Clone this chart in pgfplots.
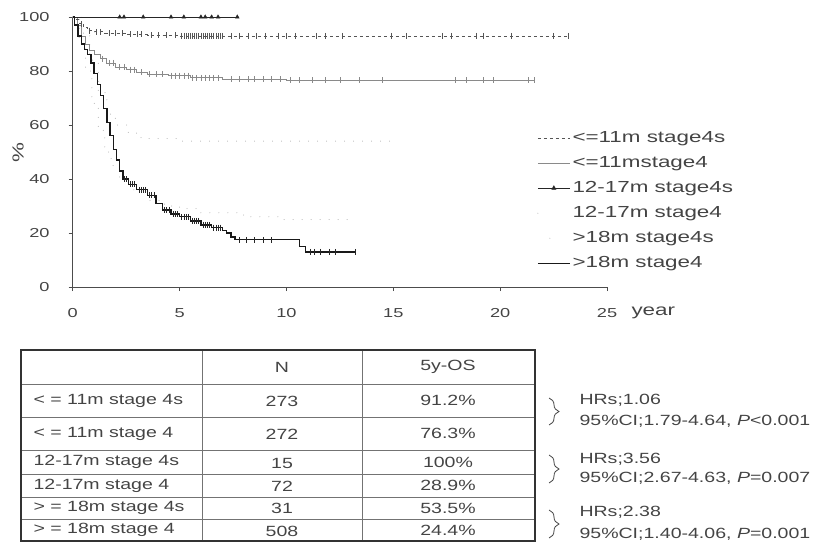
\documentclass[border=0pt]{standalone}
\usepackage{fontspec}
\usepackage{pgfplots}
\pgfplotsset{compat=1.18}
\usetikzlibrary{decorations.pathreplacing}
\newfontfamily\wf[FakeStretch=1.4]{Liberation Sans}
\newfontfamily\tf[FakeStretch=1.32]{Liberation Sans}
\newcommand\tickfont{\wf\fontsize{13}{15}\selectfont}
\newcommand\legfont{\wf\fontsize{16}{18}\selectfont}
\newcommand\tabfont{\tf\fontsize{14.8}{17}\selectfont}
\definecolor{txt}{HTML}{444444}
\definecolor{dgray}{HTML}{555555}
\definecolor{mgray}{HTML}{8A8A8A}
\definecolor{lgray}{HTML}{A8A8A8}
\begin{document}
\begin{tikzpicture}
\useasboundingbox (0pt,0pt) rectangle (814pt,-552pt);
\begin{axis}[
    at={(72.7pt,-287pt)}, anchor=south west,
    scale only axis, width=534.3pt, height=270pt,
    xmin=0, xmax=25, ymin=0, ymax=100,
    axis x line*=bottom, axis y line*=left,
    axis line style={-, draw=black!70, line width=0.9pt},
    xtick={0,5,...,25}, ytick={0,20,...,100},
    tick align=outside, major tick length=4pt,
    tick style={black!70, line width=0.8pt},
    /pgf/number format/assume math mode=true,
    ticklabel style={font=\tickfont, text=txt},
    xticklabel style={anchor=center, yshift=-22pt},
    yticklabel style={anchor=east, inner sep=0pt, xshift=-19pt},
    clip=false,
    legend style={at={(0.869,0.598)}, anchor=north west, draw=none, fill=none,
        font=\legfont, text=txt, inner sep=0pt, row sep=0pt,
        nodes={inner xsep=2pt, inner ysep=4pt, text height=13pt, text depth=4pt}},
    legend cell align=left,
    legend image code/.code={\draw[mark repeat=2,mark phase=2,#1] plot coordinates {(0pt,0pt) (16pt,0pt) (32pt,0pt)};},
]
% 12-17m stage4 (sparse dots)
\addplot[forget plot, lgray, line width=1pt, line cap=round, dash pattern=on 0pt off 9pt, const plot] coordinates {
(0,100)(0.3,90)(0.6,80)(0.9,68)(1.2,58)(1.5,50)(1.8,45)(2.2,40)(2.8,36)(3.5,32)(4.3,30)(5,29)(6,27.5)(8,26)(9.7,25)(12.9,25)};
% >18m stage4s (sparse dots)
\addplot[forget plot, lgray, line width=1pt, line cap=round, dash pattern=on 0pt off 9pt, const plot] coordinates {
(0,100)(0.4,94)(0.8,84)(1.2,72)(1.6,64)(2.0,60)(2.6,57)(3.2,55)(5,54)(15,54)};
% <=11m stage4
\addplot[forget plot, mgray, line width=0.8pt, const plot] coordinates {
(0,100)(0.2,97)(0.4,93)(0.6,90)(0.8,87.5)(1.0,86)(1.3,84.5)(1.6,83)(2.0,81.5)(2.5,80.5)(3.0,79.5)(3.5,78.8)(4.5,78.3)(5.5,77.5)(7,77)(10,76.5)(21.6,76.5)};
\addplot[forget plot, only marks, mgray, mark=|, mark size=3pt, mark options={line width=0.6pt}] coordinates {
(1.4,84.5)(1.7,83)(1.9,83)(2.2,81.5)(2.4,81.5)(2.7,80.5)(2.9,80.5)(3.2,79.5)(3.6,78.8)(3.9,78.8)(4.2,78.8)
(4.6,78.3)(4.8,78.3)(5.0,78.3)(5.2,78.3)(5.4,78.3)(5.6,77.5)(5.8,77.5)(6.0,77.5)(6.2,77.5)(6.4,77.5)(6.6,77.5)(6.8,77.5)
(7.4,77)(7.8,77)(8.2,77)(8.5,77)(8.9,77)(9.3,77)(9.7,77)(10.2,76.5)(10.6,76.5)(11.2,76.5)(11.8,76.5)(12.5,76.5)
(13.4,76.5)(14.5,76.5)(17.9,76.5)(18.4,76.5)(19.2,76.5)(19.7,76.5)(21.3,76.5)(21.6,76.5)};
% <=11m stage4s
\addplot[forget plot, dgray, line width=0.8pt, dashed, const plot] coordinates {
(0,100)(0.15,99)(0.3,97.5)(0.5,96)(0.7,95)(1.0,94.5)(1.5,94)(2.5,93.6)(3.5,93.3)(5,93)(23.2,93)};
\addplot[forget plot, only marks, dgray, mark=|, mark size=3pt, mark options={line width=0.6pt}] coordinates {
(0.4,97.5)(0.8,95)(1.1,94.5)(1.3,94.5)(1.7,94)(2.0,94)(2.3,94)(2.7,93.6)(3.0,93.6)(3.2,93.6)(3.7,93.3)(4.0,93.3)(4.4,93.3)(4.8,93.3)
(5.1,93)(5.2,93)(5.3,93)(5.4,93)(5.5,93)(5.6,93)(5.7,93)(5.8,93)(5.9,93)(6.0,93)(6.1,93)(6.2,93)(6.3,93)(6.4,93)(6.5,93)(6.6,93)(6.7,93)(6.8,93)(6.9,93)(7.0,93)
(7.4,93)(7.8,93)(8.2,93)(8.6,93)(9.0,93)(9.6,93)(10.0,93)(10.4,93)(11.4,93)(11.8,93)(12.6,93)(14.9,93)(15.6,93)
(17.3,93)(17.7,93)(18.9,93)(19.2,93)(20.5,93)(22.5,93)(23.2,93)};
% 12-17m stage4s
\addplot[forget plot, black!85, line width=0.8pt] coordinates {(0,100)(7.8,100)};
\addplot[forget plot, only marks, black!85, mark=triangle*, mark size=2.2pt] coordinates {
(2.2,100)(2.4,100)(3.3,100)(4.6,100)(5.2,100)(6.0,100)(6.2,100)(6.5,100)(6.8,100)(7.7,100)};
% >18m stage4
\addplot[forget plot, black!90, line width=1.3pt, const plot] coordinates {
(0,100)(0.1,97)(0.25,93)(0.4,90)(0.55,88)(0.7,86)(0.85,83)(1.0,79)(1.15,75)(1.3,71)(1.45,66)(1.6,61)(1.75,56)(1.9,51)(2.05,47)(2.2,43)(2.35,40)(2.6,38)(3.0,36)(3.5,34)(3.9,31)(4.2,28.5)(4.6,27)(5.0,26)(5.5,24.5)(6.0,23)(6.5,22)(7.0,21)(7.2,20)(7.4,18.5)(7.6,17.5)(10.4,17.5)(10.6,15)(10.9,13)(13.2,13)};
\addplot[forget plot, only marks, black!85, mark=|, mark size=3pt, mark options={line width=0.6pt}] coordinates {
(2.4,40)(2.5,40)(2.7,38)(2.8,38)(2.9,38)(3.1,36)(3.2,36)(3.3,36)(3.4,36)(3.6,34)(3.7,34)(3.8,34)(4.3,28.5)(4.4,28.5)(4.5,28.5)
(4.7,27)(4.8,27)(4.9,27)(5.1,26)(5.2,26)(5.3,26)(5.4,26)(5.6,24.5)(5.7,24.5)(5.8,24.5)(5.9,24.5)(6.1,23)(6.2,23)(6.3,23)(6.4,23)
(6.6,22)(6.7,22)(6.8,22)(6.9,22)(7.8,17.5)(8.1,17.5)(8.5,17.5)(8.9,17.5)(9.3,17.5)(11.1,13)(11.3,13)(11.6,13)(12.0,13)(12.3,13)(13.2,13)};
% legend
\addlegendimage{dgray, line width=0.8pt, dashed}
\addlegendentry{<=11m stage4s}
\addlegendimage{mgray, line width=0.8pt}
\addlegendentry{<=11mstage4}
\addlegendimage{black!85, line width=0.8pt, mark=triangle*, mark size=2.2pt}
\addlegendentry{12-17m stage4s}
\addlegendimage{lgray, line width=1pt, line cap=round, dash pattern=on 0pt off 40pt}
\addlegendentry{12-17m stage4}
\addlegendimage{lgray, line width=1pt, line cap=round, dash pattern=on 0pt off 40pt, dash phase=-12pt}
\addlegendentry{>18m stage4s}
\addlegendimage{black!90, line width=1.3pt}
\addlegendentry{>18m stage4}
\end{axis}
% axis texts
\node[font=\legfont, text=txt, rotate=90] at (18pt,-153pt) {\%};
\node[font=\legfont, text=txt, anchor=west] at (628pt,-313pt) {year};
% table
\draw[black!55, line width=0.8pt]
  (21pt,-384pt) -- (535pt,-384pt) (21pt,-417pt) -- (535pt,-417pt)
  (21pt,-450pt) -- (535pt,-450pt) (21pt,-474pt) -- (535pt,-474pt)
  (21pt,-497pt) -- (535pt,-497pt) (21pt,-519pt) -- (535pt,-519pt)
  (202pt,-350pt) -- (202pt,-541pt) (362pt,-350pt) -- (362pt,-541pt);
\draw[black!80, line width=1.6pt] (21pt,-350pt) rectangle (535pt,-541pt);
\begin{scope}[every node/.style={font=\tabfont, text=txt}]
\node at (282pt,-367pt) {N};
\node at (448pt,-367pt) {5y-OS};
\node[anchor=west] at (30pt,-400.5pt) {< = 11m stage 4s};
\node[anchor=west] at (30pt,-433.5pt) {< = 11m stage 4};
\node[anchor=west] at (30pt,-462pt) {12-17m stage 4s};
\node[anchor=west] at (30pt,-485.5pt) {12-17m stage 4};
\node[anchor=west] at (30pt,-508pt) {> = 18m stage 4s};
\node[anchor=west] at (30pt,-530pt) {> = 18m stage 4};
\node at (282pt,-401.5pt) {273};
\node at (282pt,-434.5pt) {272};
\node at (282pt,-463pt) {15};
\node at (282pt,-486pt) {72};
\node at (282pt,-508.5pt) {31};
\node at (282pt,-531pt) {508};
\node at (448pt,-400.5pt) {91.2\%};
\node at (448pt,-433.5pt) {76.3\%};
\node at (448pt,-462pt) {100\%};
\node at (448pt,-485.5pt) {28.9\%};
\node at (448pt,-508pt) {53.5\%};
\node at (448pt,-530pt) {24.4\%};
\node[anchor=west] at (576pt,-400pt) {HRs;1.06};
\node[anchor=west] at (576pt,-421pt) {95\%CI;1.79-4.64, \textit{P}<0.001};
\node[anchor=west] at (576pt,-459pt) {HRs;3.56};
\node[anchor=west] at (576pt,-478pt) {95\%CI;2.67-4.63, \textit{P}=0.007};
\node[anchor=west] at (576pt,-512pt) {HRs;2.38};
\node[anchor=west] at (576pt,-534pt) {95\%CI;1.40-4.06, \textit{P}=0.001};
\end{scope}
\begin{scope}[txt, line width=0.8pt, decoration={brace, amplitude=10pt}]
\draw[decorate] (549pt,-398pt) -- (549pt,-425pt);
\draw[decorate] (549pt,-455pt) -- (549pt,-483pt);
\draw[decorate] (549pt,-510pt) -- (549pt,-538pt);
\end{scope}
\end{tikzpicture}
\end{document}
